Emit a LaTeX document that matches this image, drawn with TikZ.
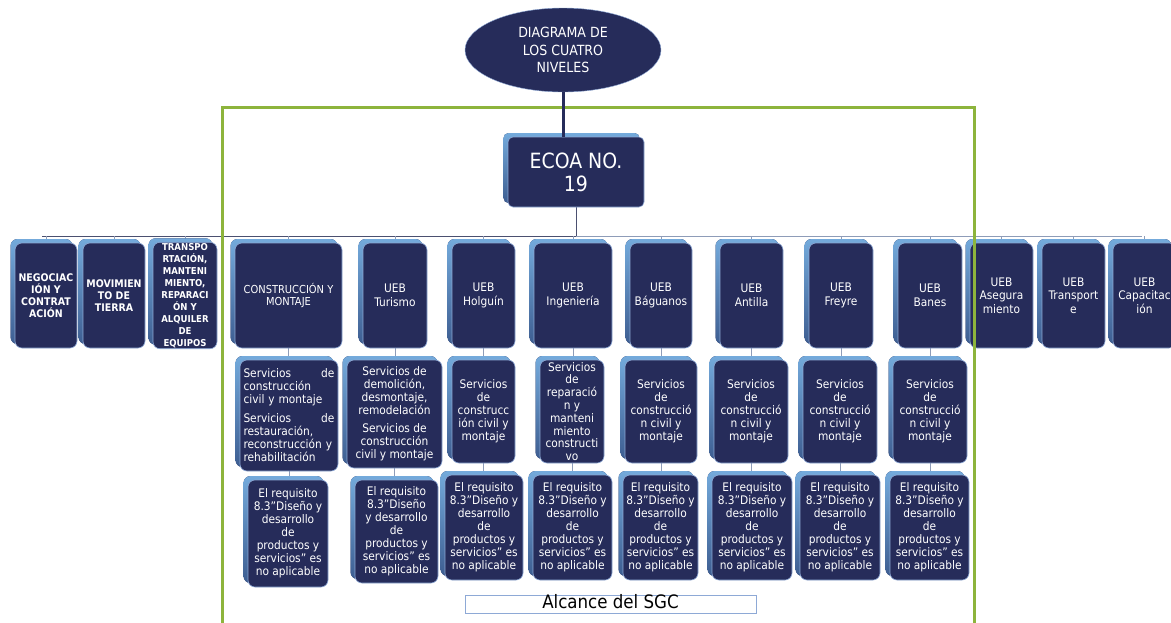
\documentclass[tikz,border=0pt]{standalone}
\usepackage{fontspec}
\setmainfont{DejaVu Sans Condensed}
\usepackage{tikz}
\usetikzlibrary{positioning,shapes.geometric,shadows,backgrounds}
\definecolor{navy}{HTML}{262C5A}
\definecolor{backblue}{HTML}{5B9BD5}
\definecolor{edgeblue}{HTML}{8EA9D6}
\definecolor{framegreen}{HTML}{8DB43C}
\definecolor{linkgray}{HTML}{8E9CB8}
\definecolor{busdark}{HTML}{4B5070}
\tikzset{
  unitbox/.style={draw=edgeblue, line width=0.6pt, fill=navy, rounded corners=7pt, text=white, align=center, inner sep=1pt,
    copy shadow={shadow xshift=-4.5pt, shadow yshift=4pt, draw=none, opacity=1,
      top color=backblue!85!white, bottom color=backblue!45!navy}},
  sz/.style 2 args={minimum width=#1pt, minimum height=#2pt},
  capsbold/.style={font=\bfseries\fontsize{10.5}{12}\selectfont},
  capssmall/.style={font=\bfseries\fontsize{9.5}{12}\selectfont},
  uebtext/.style={font=\fontsize{11.8}{13.5}\selectfont},
  svctext/.style={font=\fontsize{11.8}{13}\selectfont},
  link/.style={draw=linkgray, line width=0.8pt},
  bus/.style={draw=busdark, line width=1pt},
  stem/.style={draw=navy, line width=3pt},
  scopeframe/.style={draw=framegreen, line width=3pt}
}
\newcommand{\reqtext}{El requisito\\ 8.3"Diseño y\\ desarrollo\\ de\\ productos y\\ servicios” es\\ no aplicable}
\newcommand{\civiltext}{Servicios\\ de\\ construcció\\ n civil y\\ montaje}

\begin{document}
\begin{tikzpicture}[x=1pt, y=-1pt]
  \useasboundingbox (0,0) rectangle (1171,622);

  % level 1 and 2
  \node[ellipse, fill=navy, draw=edgeblue, text=white, minimum width=196pt, minimum height=84pt, align=center,
        font=\fontsize{14}{17.5}\selectfont] (diag) at (563,50) {DIAGRAMA DE\\ LOS CUATRO\\ NIVELES};
  \node[unitbox, sz={136}{70}, rounded corners=5pt, font=\fontsize{21}{23}\selectfont] (ecoa) at (576,172) {ECOA NO.\\ 19};

  % level 3
  \node[unitbox, sz={62}{105}, capsbold] (neg) at (46,295.5) {NEGOCIAC\\ IÓN Y\\ CONTRAT\\ ACIÓN};
  \node[unitbox, sz={62}{105}, capsbold] (mov) at (114,295.5) {MOVIMIEN\\ TO DE\\ TIERRA};
  \node[unitbox, sz={64}{105}, capssmall] (trs) at (185,295.5) {TRANSPO\\ RTACIÓN,\\ MANTENI\\ MIENTO,\\ REPARACI\\ ÓN Y\\ ALQUILER\\ DE\\ EQUIPOS};
  \node[unitbox, sz={107}{105}, font=\fontsize{11}{12}\selectfont] (cym) at (288.5,295.5) {CONSTRUCCIÓN Y\\ MONTAJE};
  \node[unitbox, sz={64}{105}, uebtext] (tur) at (395,295.5) {UEB\\ Turismo};
  \node[unitbox, sz={63}{105}, uebtext] (hol) at (483.5,295.5) {UEB\\ Holguín};
  \node[unitbox, sz={78}{105}, uebtext] (ing) at (573,295.5) {UEB\\ Ingeniería};
  \node[unitbox, sz={62}{105}, uebtext] (bag) at (661,295.5) {UEB\\ Báguanos};
  \node[unitbox, sz={63}{105}, uebtext] (ant) at (751.5,295.5) {UEB\\ Antilla};
  \node[unitbox, sz={64}{105}, uebtext] (fre) at (841,295.5) {UEB\\ Freyre};
  \node[unitbox, sz={64}{105}, uebtext] (ban) at (930,295.5) {UEB\\ Banes};
  \node[unitbox, sz={63}{105}, uebtext] (ase) at (1001.5,295.5) {UEB\\ Asegura\\ miento};
  \node[unitbox, sz={63}{105}, uebtext] (trp) at (1073.5,295.5) {UEB\\ Transport\\ e};
  \node[unitbox, sz={63}{105}, uebtext] (cap) at (1144.5,295.5) {UEB\\ Capacitac\\ ión};

  % services
  \node[unitbox, sz={98}{111}, svctext, text width=91pt, align=left] (cym-s) at (289,415.5)
    {Servicios \hfill de\\ construcción\\ civil y montaje\\[6pt] Servicios \hfill de\\ restauración,\\ reconstrucción y\\ rehabilitación};
  \node[unitbox, sz={95}{108}, svctext] (tur-s) at (394.5,414)
    {Servicios de\\ demolición,\\ desmontaje,\\ remodelación\\[5pt] Servicios de\\ construcción\\ civil y montaje};
  \node[unitbox, sz={63}{103}, svctext] (hol-s) at (483.5,411.5) {Servicios\\ de\\ construcc\\ ión civil y\\ montaje};
  \node[unitbox, sz={64}{103}, font=\fontsize{11.8}{12.8}\selectfont, inner ysep=0pt] (ing-s) at (572,411.5)
    {Servicios\\ de\\ reparació\\ n y\\ manteni\\ miento\\ constructi\\ vo};
  \node[unitbox, sz={72}{103}, svctext] (bag-s) at (661,411.5) {\civiltext};
  \node[unitbox, sz={74}{103}, svctext] (ant-s) at (751,411.5) {\civiltext};
  \node[unitbox, sz={74}{103}, svctext] (fre-s) at (840,411.5) {\civiltext};
  \node[unitbox, sz={74}{103}, svctext] (ban-s) at (930,411.5) {\civiltext};

  % requirement 8.3
  \node[unitbox, sz={80}{107}, svctext] (cym-r) at (288,533.5) {\reqtext};
  \node[unitbox, sz={83}{103}, svctext] (tur-r) at (396.5,531.5)
    {El requisito\\ 8.3"Diseño\\ y desarrollo\\ de\\ productos y\\ servicios” es\\ no aplicable};
  \node[unitbox, sz={78}{105}, svctext] (hol-r) at (484,527.5) {\reqtext};
  \node[unitbox, sz={79}{105}, svctext] (ing-r) at (572.5,527.5) {\reqtext};
  \node[unitbox, sz={75}{105}, svctext] (bag-r) at (660.5,527.5) {\reqtext};
  \node[unitbox, sz={80}{105}, svctext] (ant-r) at (752,527.5) {\reqtext};
  \node[unitbox, sz={80}{105}, svctext] (fre-r) at (840,527.5) {\reqtext};
  \node[unitbox, sz={79}{105}, svctext] (ban-r) at (929.5,527.5) {\reqtext};

  \node[draw=edgeblue, fill=white, sz={291}{18}, inner sep=0pt, text height=13pt, text depth=3.5pt,
        font=\fontsize{18.5}{18.5}\selectfont] (alc) at (610.5,604) {Alcance del SGC};

  \coordinate (busL) at (42,236);
  \coordinate (busR) at (1142,236);

  \begin{pgfonlayer}{background}
    \fill[white] (0,0) rectangle (1171,622);
    \draw[bus] (busL) -- (ecoa.south |- busL);
    \draw[link] (ecoa.south |- busL) -- (busR);
    \draw[bus] (ecoa.south) -- (ecoa.south |- busL);
    \foreach \n in {neg,mov,trs,cym,tur,hol,ing,bag,ant,fre,ban,ase,trp,cap}
      \draw[link] (\n.north) -- (\n.north |- busL);
    \foreach \n in {cym,tur,hol,ing,bag,ant,fre,ban} {
      \draw[link] (\n.south) -- (\n.south |- \n-s.north);
      \draw[link] (\n-s.south) -- (\n-s.south |- \n-r.north);
    }
  \end{pgfonlayer}

  % scope of the SGC
  \draw[scopeframe] (222,640) |- (974,107) -- (974,640);
  \draw[stem] (diag.south) -- (diag.south |- ecoa.north);
\end{tikzpicture}
\end{document}
